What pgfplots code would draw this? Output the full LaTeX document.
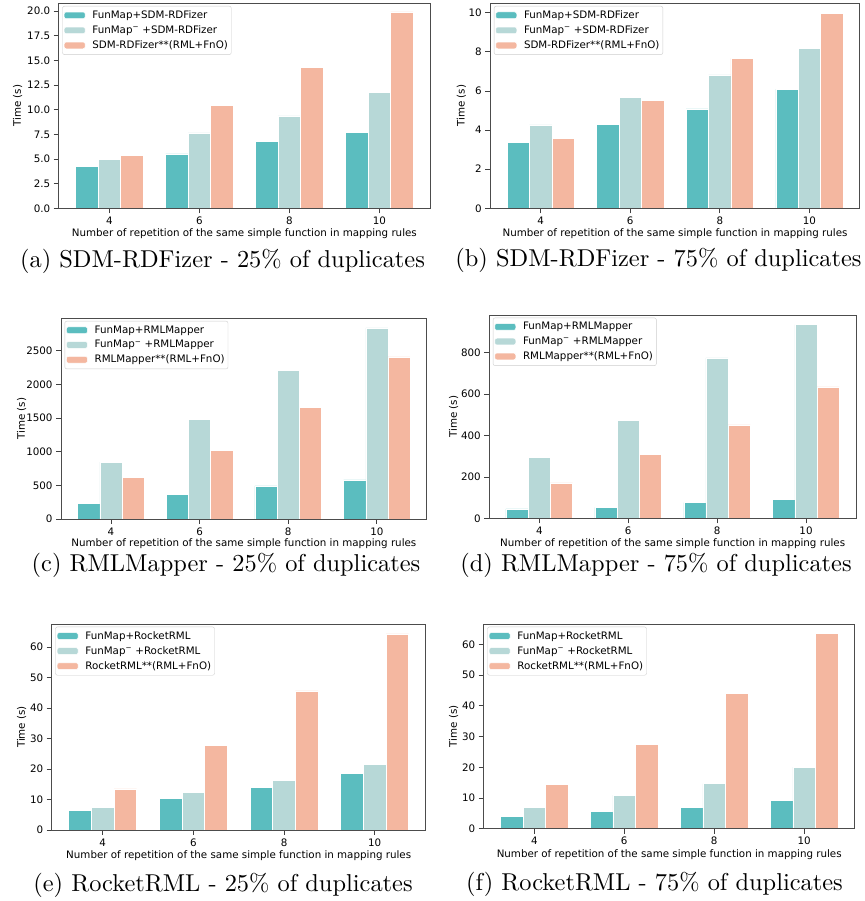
\documentclass[border=0pt]{standalone}
\usepackage{fontspec}
\usepackage{pgfplots}
\pgfplotsset{compat=1.18}
\newfontfamily\mpl{DejaVu Sans}
\newfontfamily\capfont{lmroman10-regular.otf}
\definecolor{cA}{HTML}{5BBDBF}
\definecolor{cB}{HTML}{B7D8D7}
\definecolor{cC}{HTML}{F4B7A0}
\newcommand{\mplsize}{\mpl\fontsize{10.3}{12.4}\selectfont}
\newcommand{\capsize}{\capfont\fontsize{24.4}{29}\selectfont}

\pgfplotsset{
  panel/.style={
    scale only axis, ybar, bar width=0.25, axis on top,
    xmin=-0.5625, xmax=3.5625, ymin=0,
    xtick={0,1,2,3}, xticklabels={4,6,8,10},
    tick pos=left, tick align=outside, major tick length=5pt,
    every tick/.style={black!75, line width=0.7pt},
    axis line style={black!70, line width=0.8pt},
    font=\mplsize,
    ticklabel style={font=\mplsize},
    /pgf/number format/assume math mode=true,
    /pgf/number format/1000 sep={},
    ylabel={Time (s)},
    xlabel={Number of repetition of the same simple function in mapping rules},
    xlabel style={at={(axis description cs:0.5,-0.125)}, anchor=center},
    legend cell align=left,
    legend style={at={(0,1)}, anchor=north west, xshift=3.6pt, yshift=-2.7pt,
      draw=black!20, rounded corners=2pt, font=\mplsize,
      inner xsep=1.4pt, inner ysep=2.5pt, row sep=1.7pt},
    legend image code/.code={\fill[##1] (0pt,-3.35pt) rectangle (21pt,3.35pt); \path (26pt,0pt);},
  },
  sA/.style={fill=cA, draw=white, line width=0.5pt, bar shift=-0.25},
  sB/.style={fill=cB, draw=white, line width=0.5pt, bar shift=0},
  sC/.style={fill=cC, draw=white, line width=0.5pt, bar shift=0.25},
}

\begin{document}
\begin{tikzpicture}
\useasboundingbox (0pt,0pt) rectangle (864pt,901pt);

% (a) SDM-RDFizer 25%
\begin{axis}[panel, at={(58.7pt,692.7pt)}, anchor=south west,
  width=371.3pt, height=205pt, ymax=20.8,
  ytick={0,2.5,...,20},
  yticklabel style={/pgf/number format/.cd, fixed, fixed zerofill, precision=1},
  ylabel style={at={(axis description cs:-0.1104,0.5)}, anchor=center}]
\addplot[sA] coordinates {(0,4.28) (1,5.53) (2,6.81) (3,7.69)};
\addplot[sB] coordinates {(0,4.99) (1,7.66) (2,9.38) (3,11.74)};
\addplot[sC] coordinates {(0,5.40) (1,10.42) (2,14.33) (3,19.93)};
\legend{FunMap+SDM-RDFizer, FunMap\textsuperscript{−} +SDM-RDFizer, SDM-RDFizer**(RML+FnO)}
\end{axis}

% (b) SDM-RDFizer 75%
\begin{axis}[panel, at={(490.3pt,692.7pt)}, anchor=south west,
  width=369.4pt, height=205pt, ymax=10.48,
  ytick={0,2,...,10},
  ylabel style={at={(axis description cs:-0.0785,0.5)}, anchor=center}]
\addplot[sA] coordinates {(0,3.38) (1,4.29) (2,5.08) (3,6.09)};
\addplot[sB] coordinates {(0,4.26) (1,5.68) (2,6.82) (3,8.17)};
\addplot[sC] coordinates {(0,3.56) (1,5.52) (2,7.66) (3,9.98)};
\legend{FunMap+SDM-RDFizer, FunMap\textsuperscript{−} +SDM-RDFizer, SDM-RDFizer**(RML+FnO)}
\end{axis}

% (c) RMLMapper 25%
\begin{axis}[panel, at={(61pt,382pt)}, anchor=south west,
  width=365.7pt, height=200.7pt, ymax=2980,
  ytick={0,500,...,2500},
  ylabel style={at={(axis description cs:-0.1075,0.5)}, anchor=center}]
\addplot[sA] coordinates {(0,233) (1,367) (2,491) (3,580)};
\addplot[sB] coordinates {(0,843) (1,1483) (2,2212) (3,2837)};
\addplot[sC] coordinates {(0,615) (1,1022) (2,1652) (3,2406)};
\legend{FunMap+RMLMapper, FunMap\textsuperscript{−} +RMLMapper, RMLMapper**(RML+FnO)}
\end{axis}

% (d) RMLMapper 75%
\begin{axis}[panel, at={(489.3pt,382.7pt)}, anchor=south west,
  width=366.7pt, height=203.3pt, ymax=982,
  ytick={0,200,...,800},
  ylabel style={at={(axis description cs:-0.0971,0.5)}, anchor=center}]
\addplot[sA] coordinates {(0,45) (1,53) (2,76) (3,90)};
\addplot[sB] coordinates {(0,296) (1,473) (2,775) (3,935)};
\addplot[sC] coordinates {(0,171) (1,307) (2,451) (3,635)};
\legend{FunMap+RMLMapper, FunMap\textsuperscript{−} +RMLMapper, RMLMapper**(RML+FnO)}
\end{axis}

% (e) RocketRML 25%
\begin{axis}[panel, at={(51.7pt,71pt)}, anchor=south west,
  width=374pt, height=206pt, ymax=67.5,
  ytick={0,10,...,60},
  ylabel style={at={(axis description cs:-0.0802,0.5)}, anchor=center}]
\addplot[sA] coordinates {(0,6.46) (1,10.40) (2,13.91) (3,18.61)};
\addplot[sB] coordinates {(0,7.45) (1,12.26) (2,16.31) (3,21.46)};
\addplot[sC] coordinates {(0,13.47) (1,27.81) (2,45.55) (3,64.27)};
\legend{FunMap+RocketRML, FunMap\textsuperscript{−} +RocketRML, RocketRML**(RML+FnO)}
\end{axis}

% (f) RocketRML 75%
\begin{axis}[panel, at={(483.7pt,72.3pt)}, anchor=south west,
  width=371pt, height=204.7pt, ymax=66.64,
  ytick={0,10,...,60},
  ylabel style={at={(axis description cs:-0.0809,0.5)}, anchor=center}]
\addplot[sA] coordinates {(0,3.91) (1,5.64) (2,6.94) (3,9.11)};
\addplot[sB] coordinates {(0,7.05) (1,10.96) (2,14.65) (3,20.07)};
\addplot[sC] coordinates {(0,14.32) (1,27.56) (2,44.05) (3,63.47)};
\legend{FunMap+RocketRML, FunMap\textsuperscript{−} +RocketRML, RocketRML**(RML+FnO)}
\end{axis}

\node[anchor=base, font=\capsize] at (222.5pt,633pt) {(a) SDM-RDFizer - 25\% of duplicates};
\node[anchor=base, font=\capsize] at (658.5pt,634pt) {(b) SDM-RDFizer - 75\% of duplicates};
\node[anchor=base, font=\capsize] at (226pt,329.3pt) {(c) RMLMapper - 25\% of duplicates};
\node[anchor=base, font=\capsize] at (656pt,329.3pt) {(d) RMLMapper - 75\% of duplicates};
\node[anchor=base, font=\capsize] at (223pt,9.3pt) {(e) RocketRML - 25\% of duplicates};
\node[anchor=base, font=\capsize] at (654.5pt,10pt) {(f) RocketRML - 75\% of duplicates};
\end{tikzpicture}
\end{document}
